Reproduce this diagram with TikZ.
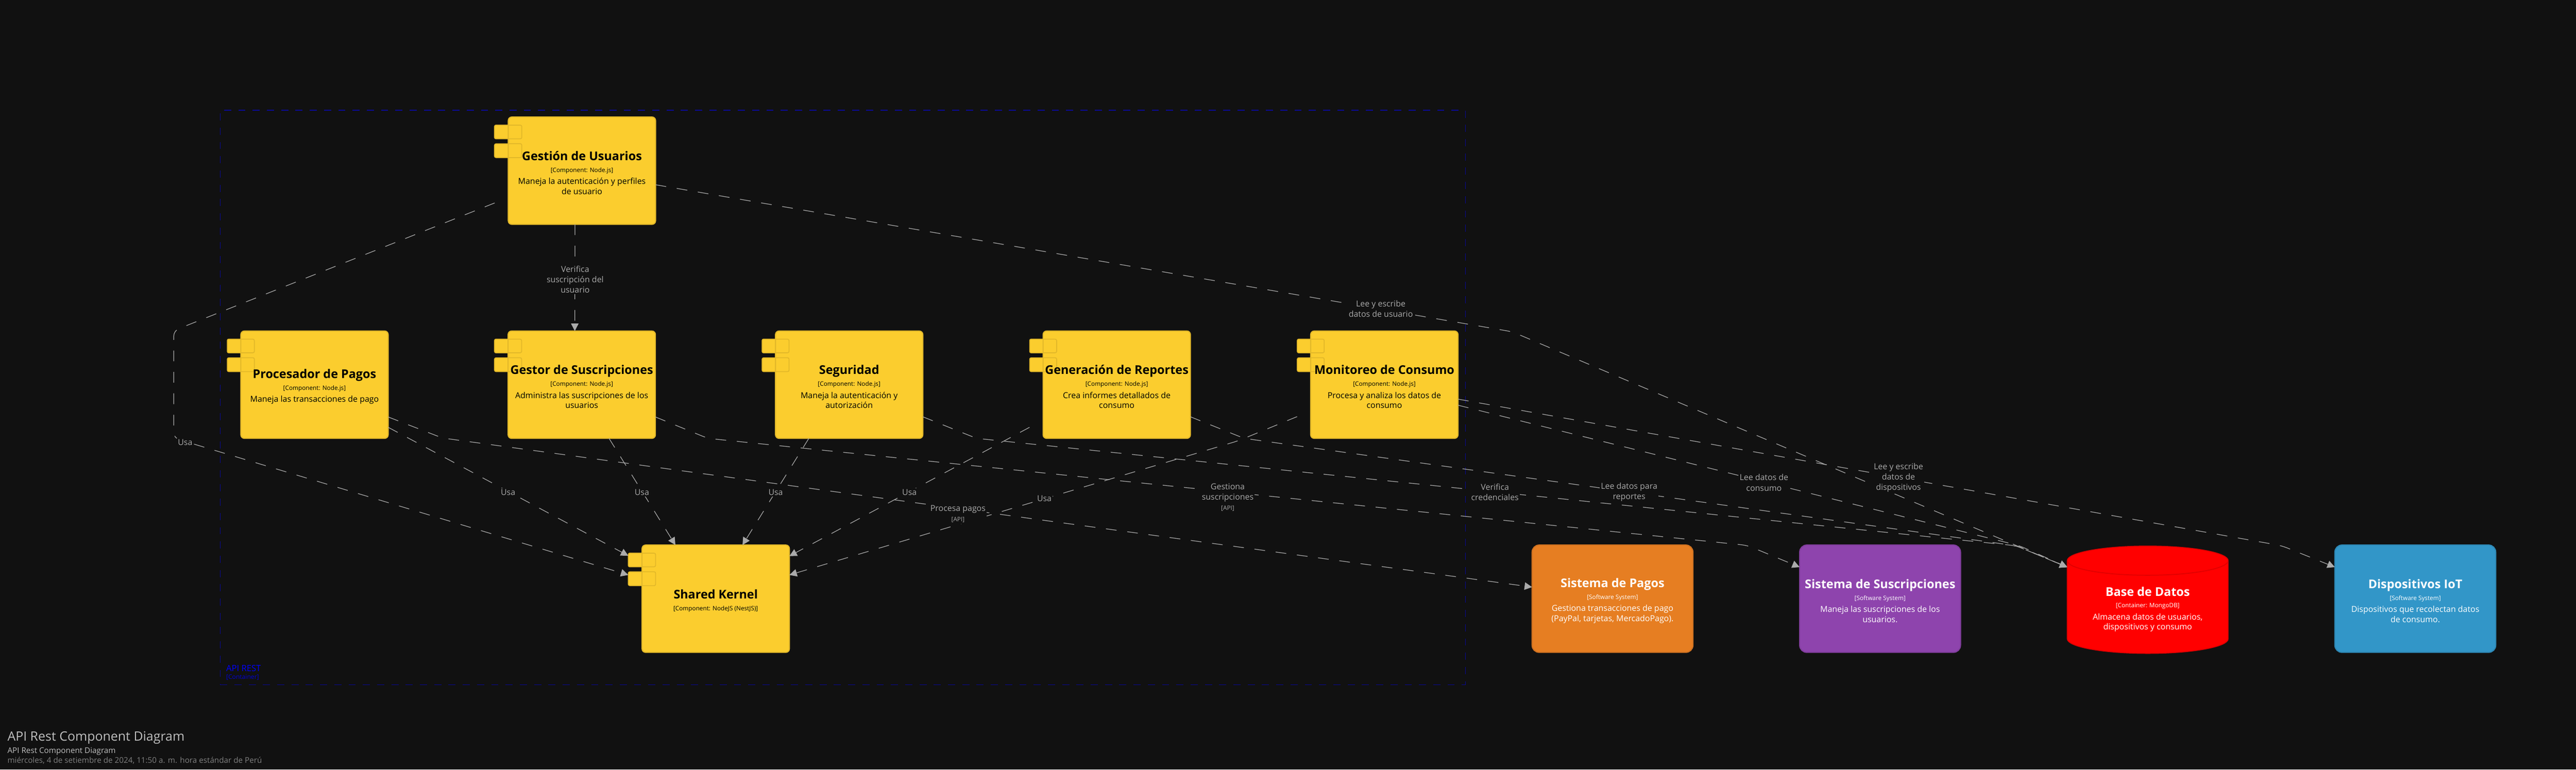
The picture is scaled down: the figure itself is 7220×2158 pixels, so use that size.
\documentclass[tikz,border=0pt]{standalone}
\usepackage{fontspec}
\setmainfont{Open Sans}
\usetikzlibrary{arrows.meta, shapes.geometric}
\definecolor{bgdark}{HTML}{111111}
\definecolor{edgegray}{HTML}{AAAAAA}
\definecolor{bluedash}{HTML}{0A0A96}
\definecolor{compyellow}{HTML}{FBCD2E}
\definecolor{compedge}{HTML}{E2B829}
\definecolor{payorange}{HTML}{E67E22}
\definecolor{payedge}{HTML}{CF7120}
\definecolor{subpurple}{HTML}{8E44AD}
\definecolor{subedge}{HTML}{803D9C}
\definecolor{iotblue}{HTML}{3296C8}
\definecolor{iotedge}{HTML}{2D87B4}
\definecolor{dbedge}{HTML}{E00000}
\newcommand{\boxname}{\fontsize{6.75}{6.75}\selectfont\bfseries\rule{0pt}{7.4pt}}
\newcommand{\boxtype}{\fontsize{3.4}{3.4}\selectfont}
\newcommand{\lblsmall}{\fontsize{3.4}{3.4}\selectfont}

\begin{document}
\begin{tikzpicture}
        [x=0.2pt, y=-0.2pt,
        boundary/.style={rectangle, draw=bluedash, line width=0.36pt, dash pattern=on 4pt off 4pt, minimum width=698pt, minimum height=322.2pt},
        comp/.style={rectangle, rounded corners=2pt, draw=compedge, fill=compyellow, line width=0.6pt, outer sep=0pt, inner sep=0pt, text=black, align=center, font=\fontsize{4.6}{5.6}\selectfont, minimum width=82.6pt, minimum height=60.2pt,
          path picture={
            \draw[tabline] ([shift={(-38,23)}]path picture bounding box.north west) rectangle ++(76,38);
            \draw[tabline] ([shift={(-38,75)}]path picture bounding box.north west) rectangle ++(76,39);
          }},
        tabline/.style={draw=compedge, line width=0.5pt, rounded corners=0.8pt},
        tabbox/.style={rectangle, rounded corners=0.8pt, draw=compedge, fill=compyellow, line width=0.5pt, outer sep=0pt, inner sep=0pt, minimum width=15.2pt, minimum height=7.7pt},
        extern/.style={rectangle, rounded corners=4pt, line width=0.6pt, outer sep=0pt, inner sep=0pt, text=white, align=center, font=\fontsize{4.6}{5.6}\selectfont, minimum width=90.2pt, minimum height=60.2pt},
        database/.style={cylinder, shape border rotate=90, shape aspect=0.266, cylinder uses custom fill, cylinder end fill=red, cylinder body fill=red, draw=dbedge, line width=0.5pt, outer sep=0pt, inner sep=0pt, text=white, align=center, font=\fontsize{4.6}{5.6}\selectfont, minimum width=90.2pt, minimum height=60.2pt},
        arr/.style={-{Triangle[length=4.2pt,width=4.2pt]}, draw=edgegray, fill=none, line width=0.36pt, dash pattern=on 6pt off 6pt, rounded corners=3pt},
        lbl/.style={fill=bgdark, text=edgegray, inner sep=0.6pt, align=center, font=\fontsize{4.6}{5.8}\selectfont},
        caption/.style={anchor=west, inner sep=0pt}]
        \path[use as bounding box, fill=bgdark] (0,0) rectangle (7220,2158);

        \node (apirest) at (2362,1114.5) [boundary] {};
        \node (apirestname) at (633,1873) [caption, text=blue, font=\fontsize{4.8}{5.8}\selectfont] {API REST};
        \node (apiresttype) at (633,1899) [caption, text=blue!85!black, font=\fontsize{3.5}{4}\selectfont] {[Container]};

        \node (tabusuariosa) at (1424,370) [tabbox] {};
        \node (tabusuariosb) at (1424,422.5) [tabbox] {};
        \node (usuarios) at (1631,478.5) [comp] {{\boxname Gestión de Usuarios}\\[1pt]{\boxtype [Component: Node.js]}\\[1.2pt]Maneja la autenticación y perfiles\\de usuario};
        \node (tabpagosa) at (675,970) [tabbox] {};
        \node (tabpagosb) at (675,1022.5) [tabbox] {};
        \node (procesador) at (881.5,1078.5) [comp] {{\boxname Procesador de Pagos}\\[1pt]{\boxtype [Component: Node.js]}\\[1.2pt]Maneja las transacciones de pago};
        \node (tabgestora) at (1424,970) [tabbox] {};
        \node (tabgestorb) at (1424,1022.5) [tabbox] {};
        \node (gestor) at (1630.5,1078.5) [comp] {{\boxname Gestor de Suscripciones}\\[1pt]{\boxtype [Component: Node.js]}\\[1.2pt]Administra las suscripciones de los\\usuarios};
        \node (tabsegura) at (2174,970) [tabbox] {};
        \node (tabsegurb) at (2174,1022.5) [tabbox] {};
        \node (seguridad) at (2380,1078.5) [comp] {{\boxname Seguridad}\\[1pt]{\boxtype [Component: Node.js]}\\[1.2pt]Maneja la autenticación y\\autorización};
        \node (tabreportesa) at (2924,970) [tabbox] {};
        \node (tabreportesb) at (2924,1022.5) [tabbox] {};
        \node (reportes) at (3130,1078.5) [comp] {{\boxname Generación de Reportes}\\[1pt]{\boxtype [Component: Node.js]}\\[1.2pt]Crea informes detallados de\\consumo};
        \node (tabmonitora) at (3674,970) [tabbox] {};
        \node (tabmonitorb) at (3674,1022.5) [tabbox] {};
        \node (monitoreo) at (3880,1078.5) [comp] {{\boxname Monitoreo de Consumo}\\[1pt]{\boxtype [Component: Node.js]}\\[1.2pt]Procesa y analiza los datos de\\consumo};
        \node (tabkernela) at (1799,1570) [tabbox] {};
        \node (tabkernelb) at (1799,1622.5) [tabbox] {};
        \node (kernel) at (2006,1678.5) [comp] {{\boxname Shared Kernel}\\[1pt]{\boxtype [Component: NodeJS (NestJS)]}};

        \node (syspagos) at (4519.5,1678.5) [extern, draw=payedge, fill=payorange] {{\boxname Sistema de Pagos}\\[1pt]{\boxtype [Software System]}\\[1.2pt]Gestiona transacciones de pago\\(PayPal, tarjetas, MercadoPago).};
        \node (syssusc) at (5269.5,1678.5) [extern, draw=subedge, fill=subpurple] {{\boxname Sistema de Suscripciones}\\[1pt]{\boxtype [Software System]}\\[1.2pt]Maneja las suscripciones de los\\usuarios.};
        \node (datos) at (6019.5,1702.5) [database] {{\boxname Base de Datos}\\[1pt]{\boxtype [Container: MongoDB]}\\[1.2pt]Almacena datos de usuarios,\\dispositivos y consumo};
        \node (iot) at (6769.5,1678.5) [extern, draw=iotedge, fill=iotblue] {{\boxname Dispositivos IoT}\\[1pt]{\boxtype [Software System]}\\[1.2pt]Dispositivos que recolectan datos\\de consumo.};

        \draw[arr] ([shift={(-19.5,0)}]usuarios.south) -- ([shift={(-19.5,0)}]gestor.north);
        \draw[arr] ([shift={(-38,90.5)}]usuarios.west) -- (487,927) -- (487,1228) -- ([shift={(0,-10.5)}]tabkernelb.west);
        \draw[arr] ([shift={(0,39.5)}]usuarios.east) -- (4238,930) -- ([shift={(-225.5,-112.5)}]datos.center);
        \draw[arr] ([shift={(0,119.5)}]procesador.east) -- ([shift={(0,-12)}]tabkernela.west);
        \draw[arr] ([shift={(0,90.5)}]procesador.east) -- (1240,1228) -- ([shift={(0,-32.5)}]syspagos.west);
        \draw[arr] ([shift={(0,90.5)}]gestor.east) -- (1984,1229) -- (4897,1529) -- ([shift={(0,-88.5)}]syssusc.west);
        \draw[arr] ([shift={(76.5,0)}]gestor.south) -- ([shift={(-113,0)}]kernel.north);
        \draw[arr] ([shift={(-113,0)}]seguridad.south) -- ([shift={(75,0)}]kernel.north);
        \draw[arr] ([shift={(0,90)}]seguridad.east) -- (2737,1229) -- (5650,1530) -- ([shift={(-225.5,-112.5)}]datos.center);
        \draw[arr] ([shift={(-38,119.5)}]reportes.west) -- ([shift={(0,-119.5)}]kernel.east);
        \draw[arr] ([shift={(0,90)}]reportes.east) -- (3487,1229) -- (5650,1530) -- ([shift={(-225.5,-112.5)}]datos.center);
        \draw[arr] ([shift={(-38,89.5)}]monitoreo.west) -- (3470,1236) -- ([shift={(0,-66.5)}]kernel.east);
        \draw[arr] ([shift={(0,57.5)}]monitoreo.east) -- (5660,1530) -- ([shift={(-225.5,-112.5)}]datos.center);
        \draw[arr] ([shift={(0,40.5)}]monitoreo.east) -- (6395,1530) -- ([shift={(0,-88.5)}]iot.west);

        \node (lblverifica) at (1612,783) [lbl] {Verifica\\suscripción del\\usuario};
        \node (lblusuarios) at (3870,866) [lbl] {Lee y escribe\\datos de usuario};
        \node (lblusaa) at (519,1240) [lbl] {Usa};
        \node (lblusab) at (1424,1380) [lbl] {Usa};
        \node (lblusac) at (1799,1380) [lbl] {Usa};
        \node (lblusad) at (2174,1380) [lbl] {Usa};
        \node (lblusae) at (2549,1380) [lbl] {Usa};
        \node (lblusaf) at (2927,1397) [lbl] {Usa};
        \node (lblpagos) at (2685,1441) [lbl] {Procesa pagos\\{\lblsmall [API]}};
        \node (lblgestiona) at (3441,1394) [lbl] {Gestiona\\suscripciones\\{\lblsmall [API]}};
        \node (lblcreden) at (4190,1380) [lbl] {Verifica\\credenciales};
        \node (lblreportes) at (4566,1380) [lbl] {Lee datos para\\reportes};
        \node (lblconsumo) at (4944,1353) [lbl] {Lee datos de\\consumo};
        \node (lbldisp) at (5321,1339) [lbl] {Lee y escribe\\datos de\\dispositivos};

        \node (titlea) at (20,2068) [caption, text=black!25, font=\fontsize{7.2}{8}\selectfont] {API Rest Component Diagram};
        \node (titleb) at (20,2106) [caption, text=black!25, font=\fontsize{4.4}{5}\selectfont] {API Rest Component Diagram};
        \node (titlec) at (20,2132) [caption, text=black!50, font=\fontsize{4.4}{5}\selectfont] {miércoles, 4 de setiembre de 2024, 11:50 a. m. hora estándar de Perú};
\end{tikzpicture}
\end{document}
